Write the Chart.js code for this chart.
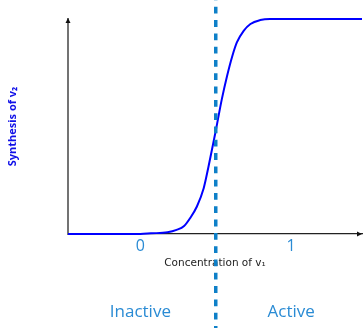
<!DOCTYPE html>
<html>
<head>
<meta charset="utf-8">
<script src="https://cdn.jsdelivr.net/npm/chart.js@4/dist/chart.umd.min.js"></script>
<style>
  html, body { margin: 0; padding: 0; background: #fff; }
</style>
</head>
<body>
<canvas id="c" width="363" height="328"></canvas>
<script>
  // Concentration of v1 (x) vs synthesis of v2 (y)
  const concentration = [-0.48, 0.0, 0.07, 0.18, 0.24, 0.29, 0.33, 0.375, 0.42, 0.45, 0.475, 0.5, 0.54, 0.575, 0.61, 0.64, 0.685, 0.73, 0.795, 0.86, 1.0, 1.47];
  const synthesis     = [0, 0, 0.003, 0.008, 0.019, 0.037, 0.074, 0.128, 0.213, 0.307, 0.393, 0.48, 0.626, 0.735, 0.828, 0.891, 0.945, 0.977, 0.995, 1.0, 1.0, 1.0];
  const xTicks = [0, 1];
  const stateLabels = ['Inactive', 'Active'];
  const threshold = 0.5;

  const FONT = "'Open Sans', sans-serif";
  const TICK_BLUE = '#2a8bd4';
  const DASH_BLUE = '#0e80c8';

  // axis arrowheads + the threshold line
  const overlay = {
    id: 'overlay',
    afterDatasetsDraw(chart) {
      const { ctx, chartArea: a, scales: { x } } = chart;
      ctx.save();
      ctx.fillStyle = '#111';
      ctx.beginPath();
      ctx.moveTo(a.left, a.top - 1);
      ctx.lineTo(a.left - 2.5, a.top + 4);
      ctx.lineTo(a.left + 2.5, a.top + 4);
      ctx.fill();
      ctx.beginPath();
      ctx.moveTo(a.right, a.bottom);
      ctx.lineTo(a.right - 5, a.bottom - 2.5);
      ctx.lineTo(a.right - 5, a.bottom + 2.5);
      ctx.fill();

      const px = x.getPixelForValue(threshold);
      ctx.strokeStyle = DASH_BLUE;
      ctx.lineWidth = 3.5;
      ctx.setLineDash([6.8, 6.5]);
      ctx.lineDashOffset = 6.5;
      ctx.beginPath();
      ctx.moveTo(px, 0);
      ctx.lineTo(px, chart.height);
      ctx.stroke();
      ctx.restore();
    }
  };

  new Chart(document.getElementById('c'), {
    type: 'line',
    data: {
      datasets: [{
        data: concentration.map((c, i) => ({ x: c, y: synthesis[i] })),
        borderColor: '#0000ff',
        borderWidth: 2,
        pointRadius: 0,
        cubicInterpolationMode: 'monotone',
        fill: false,
        clip: false,
      }]
    },
    options: {
      responsive: false,
      animation: false,
      layout: { padding: { top: 19, right: 1, left: 0, bottom: 0 } },
      plugins: { legend: { display: false }, tooltip: { enabled: false } },
      scales: {
        x: {
          type: 'linear',
          min: -0.48, max: 1.47,
          weight: 0,
          afterBuildTicks: s => { s.ticks = xTicks.map(v => ({ value: v })); },
          afterFit: s => { s.height = 44; },
          grid: { display: false, drawTicks: false },
          border: { display: true, color: '#222', width: 1.3 },
          ticks: { color: TICK_BLUE, font: { family: FONT, size: 16 }, padding: 3, maxRotation: 0 },
          title: {
            display: true, text: 'Concentration of v₁', color: '#222',
            font: { family: "'DejaVu Sans', sans-serif", size: 10.5 }, padding: { top: 0, bottom: 8 }
          }
        },
        x2: {
          type: 'linear',
          position: 'bottom',
          min: -0.48, max: 1.47,
          weight: 1,
          afterBuildTicks: s => { s.ticks = xTicks.map(v => ({ value: v })); },
          afterFit: s => { s.height = 50; },
          grid: { display: false, drawTicks: false },
          border: { display: false },
          ticks: {
            color: TICK_BLUE, font: { family: FONT, size: 17 }, padding: 24, maxRotation: 0,
            callback: v => stateLabels[xTicks.indexOf(v)]
          }
        },
        y: {
          min: 0, max: 1,
          afterFit: s => { s.width = 68; },
          grid: { display: false, drawTicks: false },
          border: { display: true, color: '#737373', width: 2 },
          ticks: { display: false },
          title: {
            display: true, text: 'Synthesis of v₂', color: '#1010e8',
            font: { family: FONT, size: 11, weight: 'bold' }, padding: { top: 6, bottom: 0 }
          }
        }
      }
    },
    plugins: [overlay]
  });
</script>
</body>
</html>
